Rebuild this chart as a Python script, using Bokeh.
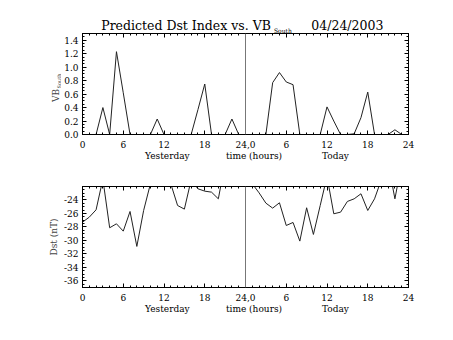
import math
from bokeh.plotting import figure
from bokeh.models import (Range1d, LinearAxis, SingleIntervalTicker, FixedTicker,
                          PrintfTickFormatter, CustomJSTickFormatter, Span, Label)
from bokeh.layouts import column, row
from bokeh.embed import file_html
from bokeh.resources import INLINE

# ---------------- data ----------------
hours = list(range(48))  # 0-23 yesterday, 24-47 today
vb_south = [0.0, 0.0, 0.0, 0.40, 0.0, 1.23, 0.62, 0.0, 0.0, 0.0, 0.0, 0.23,
            0.0, 0.0, 0.0, 0.0, 0.0, 0.37, 0.75, 0.0, 0.0, 0.0, 0.23, 0.0,
            0.0, 0.0, 0.0, 0.0, 0.77, 0.92, 0.78, 0.74, 0.0, 0.0, 0.0, 0.0,
            0.41, 0.20, 0.0, 0.0, 0.01, 0.25, 0.63, 0.0, 0.0, 0.0, 0.07, 0.0]
dst = [-27.3, -26.55, -25.46, -20.9, -28.13, -27.54, -28.63, -25.71, -30.9, -25.56, -21.6, -20.5,
       -20.8, -21.6, -24.82, -25.36, -21.0, -22.34, -22.69, -22.84, -23.83, -18.5, -18.0, -18.5,
       -19.5, -21.6, -22.94, -24.47, -25.21, -24.42, -27.79, -27.34, -30.11, -25.16, -29.12, -24.82,
       -20.5, -26.05, -25.81, -24.22, -23.83, -23.08, -25.56, -23.83, -21.0, -18.5, -23.83, -18.5]

x_tick_labels = {0: "0", 6: "6", 12: "12", 18: "18", 24: "24,0",
                 30: "6", 36: "12", 42: "18", 48: "24"}
day_labels = ["Yesterday", "time (hours)", "Today"]
title_main = "Predicted Dst Index vs. VB"
title_sub = "South"
title_date = "04/24/2003"
vb_label_main, vb_label_sub = "VB", "South"
dst_label = "Dst (nT)"
dst_ticks = [-36, -34, -32, -30, -28, -26, -24]

# ---------------- layout constants ----------------
W, H = 453, 340
FONT = "DejaVu Serif"
STRIP_W = 61          # left strip holding the y-axis titles
LEFT, RIGHT = 81, 408  # frame edges (page px)
FH = 101
DAY_POS = [12.5, 25.25, 37.25]      # centres of the day labels along x
TITLE_POS = [15.25, 39.0]           # centres of title text and date along x
SUB_POS = [29.5]                    # centre of the subscript along x


def strip(width, height, x0, y0):
    s = figure(width=width, height=height, x_range=Range1d(x0, x0 + width),
               y_range=Range1d(y0 + height, y0), x_axis_type=None, y_axis_type=None,
               output_backend="svg", toolbar_location=None, title=None,
               min_border_left=0, min_border_right=0, min_border_top=0, min_border_bottom=0)
    s.outline_line_color = None
    s.background_fill_color = "white"
    s.border_fill_color = "white"
    return s


def panel(ymin, ymax, border_top, height):
    p = figure(width=W - STRIP_W, height=height, x_range=Range1d(0, 48),
               y_range=Range1d(ymin, ymax), x_axis_type=None, y_axis_type=None,
               output_backend="svg", toolbar_location=None, title=None,
               min_border_left=LEFT - STRIP_W, min_border_right=W - RIGHT,
               min_border_top=border_top, min_border_bottom=height - border_top - FH)
    p.outline_line_color = "black"
    p.background_fill_color = "white"
    p.border_fill_color = "white"
    return p


def style(ax, labels=True):
    ax.axis_line_color = "black"
    ax.major_tick_in = 4
    ax.major_tick_out = 0
    ax.minor_tick_in = 2
    ax.minor_tick_out = 0
    ax.major_tick_line_color = "black"
    ax.minor_tick_line_color = "black"
    ax.major_label_text_font = FONT
    ax.major_label_text_font_size = "9px"
    ax.major_label_text_color = "black"
    if not labels:
        ax.formatter = CustomJSTickFormatter(code="return ''")
        ax.major_label_text_font_size = "0px"
        ax.major_label_standoff = 0


def text_axis(positions, texts, size, standoff):
    a = LinearAxis(ticker=FixedTicker(ticks=positions, minor_ticks=[]))
    a.axis_line_color = None
    a.major_tick_line_color = None
    a.minor_tick_line_color = None
    a.major_tick_in = 0
    a.major_tick_out = 0
    a.major_label_standoff = standoff
    a.major_label_text_font = FONT
    a.major_label_text_font_size = size
    a.major_label_text_color = "black"
    a.major_label_overrides = dict(zip(positions, texts))
    return a


def add_axes(p, yticker_l, yticker_r, yfmt):
    xb = LinearAxis(ticker=SingleIntervalTicker(interval=6, num_minor_ticks=6))
    style(xb)
    xb.major_label_overrides = x_tick_labels
    xb.major_label_standoff = 6
    p.add_layout(xb, "below")
    p.add_layout(text_axis(DAY_POS, day_labels, "9px", 0), "below")
    xa = LinearAxis(ticker=SingleIntervalTicker(interval=6, num_minor_ticks=6))
    style(xa, labels=False)
    p.add_layout(xa, "above")
    yl = LinearAxis(ticker=yticker_l, formatter=yfmt)
    style(yl)
    yl.major_label_standoff = 4
    p.add_layout(yl, "left")
    yr = LinearAxis(ticker=yticker_r)
    style(yr, labels=False)
    p.add_layout(yr, "right")


# ---------------- top panel ----------------
p1 = panel(0, 1.5, 33, 170)
add_axes(p1,
         SingleIntervalTicker(interval=0.2, num_minor_ticks=4),
         SingleIntervalTicker(interval=0.2, num_minor_ticks=4),
         PrintfTickFormatter(format="%.1f"))
# title row: subscript nearest the frame, main title above it
p1.add_layout(text_axis(SUB_POS, [title_sub], "6px", 0), "above")
p1.add_layout(text_axis(TITLE_POS, [title_main, title_date], "12.5px", -9), "above")
p1.line(hours, vb_south, line_color="#222222", line_width=1)
p1.add_layout(Span(location=24, dimension="height", line_color="#777777", line_width=1))

# ---------------- bottom panel ----------------
p2 = panel(-37, -22, 16, 170)
minor = [-37 + 0.5 * i for i in range(31)]
add_axes(p2,
         FixedTicker(ticks=dst_ticks, minor_ticks=minor),
         FixedTicker(ticks=dst_ticks, minor_ticks=minor),
         PrintfTickFormatter(format="%d"))
p2.line(hours, dst, line_color="#222222", line_width=1)
p2.add_layout(Span(location=24, dimension="height", line_color="#777777", line_width=1))

# ---------------- left strip (y titles), page pixel coordinates ----------------
left = strip(STRIP_W, H, 0, 0)
left.add_layout(Label(x=55.0, y=101.5, text=vb_label_main, text_font=FONT, text_font_size="9px",
                      text_align="left", text_baseline="alphabetic", angle=math.pi / 2))
left.add_layout(Label(x=58.5, y=88.0, text=vb_label_sub, text_font=FONT, text_font_size="5px",
                      text_align="left", text_baseline="alphabetic", angle=math.pi / 2))
left.add_layout(Label(x=53.5, y=236.5, text=dst_label, text_font=FONT, text_font_size="9px",
                      text_align="center", text_baseline="alphabetic", angle=math.pi / 2))

layout = row(left, column(p1, p2, spacing=0), spacing=0)
open("out.html", "w").write(file_html(layout, INLINE))
